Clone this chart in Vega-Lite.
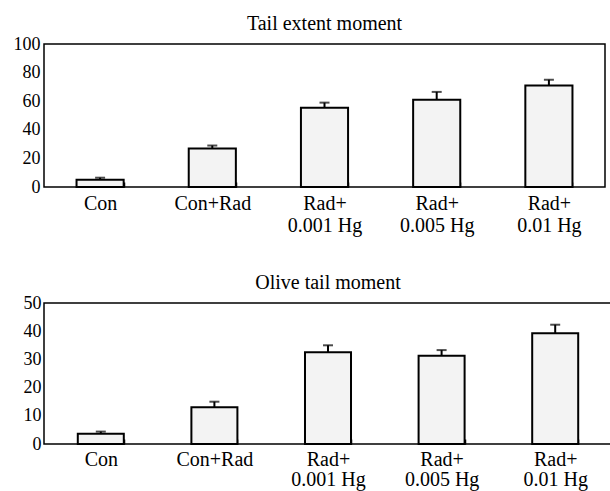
{
  "$schema": "https://vega.github.io/schema/vega-lite/v6.json",
  "background": "white",
  "padding": {"left": 12, "top": 13, "right": 2, "bottom": 2},
  "config": {
    "font": "Liberation Serif",
    "view": {"stroke": "black", "strokeWidth": 1.5},
    "axis": {"labelFont": "Liberation Serif", "labelColor": "black", "domain": false, "grid": false, "title": null, "labelOverlap": false},
    "title": {"font": "Liberation Serif", "fontSize": 20, "fontWeight": "normal", "color": "black", "offset": 1, "anchor": "middle"}
  },
  "datasets": {
    "tail": [
      {"group": "Con", "value": 5, "upper": 6.5},
      {"group": "Con+Rad", "value": 27, "upper": 29},
      {"group": "Rad+|0.001 Hg", "value": 55.5, "upper": 59},
      {"group": "Rad+|0.005 Hg", "value": 61, "upper": 66.5},
      {"group": "Rad+|0.01 Hg", "value": 71, "upper": 75}
    ],
    "olive": [
      {"group": "Con", "value": 3.6, "upper": 4.4},
      {"group": "Con+Rad", "value": 13, "upper": 15},
      {"group": "Rad+|0.001 Hg", "value": 32.5, "upper": 35},
      {"group": "Rad+|0.005 Hg", "value": 31.3, "upper": 33.3},
      {"group": "Rad+|0.01 Hg", "value": 39.3, "upper": 42.3}
    ]
  },
  "columns": 1,
  "align": "none",
  "spacing": 36,
  "concat": [
    {
      "title": "Tail extent moment",
      "width": 561,
      "height": 143,
      "data": {"name": "tail"},
      "encoding": {
        "x": {
          "field": "group", "type": "nominal", "sort": null,
          "scale": {"paddingInner": 0.58, "paddingOuter": 0.29},
          "axis": {"labelAngle": 0, "labelFontSize": 20, "labelExpr": "datum.value ? split(datum.value, '|') : ''", "tickBand": "extent", "tickSize": -5, "tickColor": "black", "tickWidth": 1.5, "labelPadding": 11, "labelLineHeight": 22, "labelBaseline": "top"}
        }
      },
      "layer": [
        {
          "mark": {"type": "bar", "fill": "#f3f3f3", "stroke": "black", "strokeWidth": 2},
          "encoding": {
            "y": {"field": "value", "type": "quantitative", "scale": {"domain": [0, 100]},
                  "axis": {"values": [0, 20, 40, 60, 80, 100], "labelFontSize": 18, "ticks": false, "labelPadding": 4, "labelOverlap": false, "title": null}}
          }
        },
        {
          "mark": {"type": "rule", "strokeWidth": 2, "color": "black"},
          "encoding": {
            "y": {"field": "value", "type": "quantitative",
                  "axis": {"values": [0, 20, 40, 60, 80, 100], "labelFontSize": 18, "ticks": false, "labelPadding": 4, "labelOverlap": false, "title": null}},
            "y2": {"field": "upper"}
          }
        },
        {
          "mark": {"type": "tick", "thickness": 2, "size": 10, "color": "black"},
          "encoding": {
            "y": {"field": "upper", "type": "quantitative",
                  "axis": {"values": [0, 20, 40, 60, 80, 100], "labelFontSize": 18, "ticks": false, "labelPadding": 4, "labelOverlap": false, "title": null}}
          }
        }
      ]
    },
    {
      "title": "Olive tail moment",
      "width": 568,
      "height": 141,
      "data": {"name": "olive"},
      "encoding": {
        "x": {
          "field": "group", "type": "nominal", "sort": null,
          "scale": {"paddingInner": 0.595, "paddingOuter": 0.2975},
          "axis": {"labelAngle": 0, "labelFontSize": 20, "labelExpr": "datum.value ? split(datum.value, '|') : ''", "tickBand": "extent", "tickSize": -5, "tickColor": "black", "tickWidth": 1.5, "labelPadding": 10, "labelLineHeight": 20, "labelBaseline": "top"}
        }
      },
      "layer": [
        {
          "mark": {"type": "bar", "fill": "#f3f3f3", "stroke": "black", "strokeWidth": 2},
          "encoding": {
            "y": {"field": "value", "type": "quantitative", "scale": {"domain": [0, 50]},
                  "axis": {"values": [0, 10, 20, 30, 40, 50], "labelFontSize": 18, "ticks": false, "labelPadding": 3, "labelOverlap": false, "title": null}}
          }
        },
        {
          "mark": {"type": "rule", "strokeWidth": 2, "color": "black"},
          "encoding": {
            "y": {"field": "value", "type": "quantitative",
                  "axis": {"values": [0, 10, 20, 30, 40, 50], "labelFontSize": 18, "ticks": false, "labelPadding": 3, "labelOverlap": false, "title": null}},
            "y2": {"field": "upper"}
          }
        },
        {
          "mark": {"type": "tick", "thickness": 2, "size": 10, "color": "black"},
          "encoding": {
            "y": {"field": "upper", "type": "quantitative",
                  "axis": {"values": [0, 10, 20, 30, 40, 50], "labelFontSize": 18, "ticks": false, "labelPadding": 3, "labelOverlap": false, "title": null}}
          }
        }
      ]
    }
  ]
}
